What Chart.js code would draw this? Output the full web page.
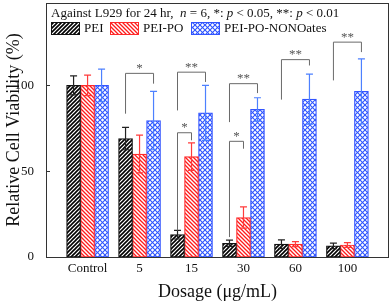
<!DOCTYPE html>
<html>
<head>
<meta charset="utf-8">
<script src="https://cdn.jsdelivr.net/npm/chart.js@4.4.0/dist/chart.umd.min.js"></script>
<style>html,body{margin:0;padding:0;background:#fff}</style>
</head>
<body>
<canvas id="chart" width="392" height="301"></canvas>
<script>
const doses = ['Control', '5', '15', '30', '60', '100'];
const seriesNames = ['PEI', 'PEI-PO', 'PEI-PO-NONOates'];
const peiMean = [100, 69, 13, 8, 7.5, 6.5];
const peiErr = [5.5, 6.5, 2.5, 1.8, 2.5, 1.6];
const peiPoMean = [100, 60, 58.5, 23, 7.5, 7];
const peiPoErr = [6, 11, 8, 6.2, 1.5, 1.4];
const nonoMean = [100, 79.5, 84, 86, 92, 96.5];
const nonoErr = [9.5, 17, 16, 6.8, 14.6, 19];
const yTicks = [0, 50, 100];

// significance brackets: dose index, from series, to series, top, left end, right end, label
const brackets = [
    [1, 0, 2, 107, 83.5, 101, '*'],
    [2, 0, 2, 107.7, 85.4, 102, '**'],
    [2, 0, 1, 72.4, 15.5, 68, '*'],
    [3, 0, 2, 101, 78.6, 95.5, '**'],
    [3, 0, 1, 67.4, 11.6, 63.1, '*'],
    [4, 0, 2, 115, 91.7, 111.6, '**'],
    [5, 0, 2, 125.2, 102.9, 119.4, '**']
];

const lineColors = ['#111111', '#ff2a2a', '#3355ff'];
const errColors = ['#222222', '#ff3b3b', '#4d80ff'];

// hatch patterns
function makePattern(kind, color) {
    const c = document.createElement('canvas');
    const s = kind === 'cross' ? 5 : 4;
    c.width = s; c.height = s;
    const g = c.getContext('2d');
    g.fillStyle = '#fff';
    g.fillRect(0, 0, s, s);
    g.strokeStyle = color;
    g.lineWidth = kind === 'cross' ? 1.1 : (kind === 'up' ? 1.6 : 1.3);
    const up = () => {
        g.beginPath();
        g.moveTo(-1, s + 1); g.lineTo(s + 1, -1);
        g.moveTo(-1, 1); g.lineTo(1, -1);
        g.moveTo(s - 1, s + 1); g.lineTo(s + 1, s - 1);
        g.stroke();
    };
    const down = () => {
        g.beginPath();
        g.moveTo(-1, -1); g.lineTo(s + 1, s + 1);
        g.moveTo(s - 1, -1); g.lineTo(s + 1, 1);
        g.moveTo(-1, s - 1); g.lineTo(1, s + 1);
        g.stroke();
    };
    if (kind === 'up') up();
    else if (kind === 'down') down();
    else { up(); down(); }
    return g.createPattern(c, 'repeat');
}

const patterns = [
    makePattern('up', '#000'),
    makePattern('down', '#ff1a1a'),
    makePattern('cross', '#2f55ff')
];

const means = [peiMean, peiPoMean, nonoMean];
const errs = [peiErr, peiPoErr, nonoErr];

const extras = {
    id: 'extras',
    afterDatasetsDraw(chart) {
        const ctx = chart.ctx;
        const y = chart.scales.y;
        const area = chart.chartArea;
        ctx.save();

        // error bars
        means.forEach((m, s) => {
            const meta = chart.getDatasetMeta(s);
            ctx.strokeStyle = errColors[s];
            ctx.lineWidth = 1.2;
            m.forEach((v, i) => {
                const x = meta.data[i].x;
                const top = y.getPixelForValue(v + errs[s][i]);
                const bot = y.getPixelForValue(v - errs[s][i]);
                ctx.beginPath();
                ctx.moveTo(x, top); ctx.lineTo(x, bot);
                ctx.moveTo(x - 3.5, top); ctx.lineTo(x + 3.5, top);
                ctx.moveTo(x - 3.5, bot); ctx.lineTo(x + 3.5, bot);
                ctx.stroke();
            });
        });

        // brackets
        ctx.strokeStyle = '#6a6a6a';
        ctx.fillStyle = '#555';
        ctx.lineWidth = 1;
        ctx.font = '13px "Liberation Serif"';
        ctx.textAlign = 'center';
        ctx.textBaseline = 'middle';
        brackets.forEach(([i, a, b, top, lEnd, rEnd, label]) => {
            const xa = chart.getDatasetMeta(a).data[i].x;
            const xb = chart.getDatasetMeta(b).data[i].x;
            const yt = y.getPixelForValue(top);
            ctx.beginPath();
            ctx.moveTo(xa, y.getPixelForValue(lEnd));
            ctx.lineTo(xa, yt);
            ctx.lineTo(xb, yt);
            ctx.lineTo(xb, y.getPixelForValue(rEnd));
            ctx.stroke();
            ctx.fillText(label, (xa + xb) / 2, yt - 5);
        });

        // frame and y ticks
        ctx.strokeStyle = '#333';
        ctx.lineWidth = 1;
        ctx.strokeRect(area.left + 0.5, area.top + 0.5, area.right - area.left - 1, area.bottom - area.top);
        yTicks.forEach(t => {
            const py = Math.round(y.getPixelForValue(t)) + 0.5;
            ctx.beginPath();
            ctx.moveTo(area.left, py); ctx.lineTo(area.left + 4, py);
            ctx.stroke();
        });

        // note and legend
        ctx.textAlign = 'left';
        ctx.fillStyle = '#111';
        let px = 51;
        const ny = 14;
        const parts = [
            ['Against L929 for 24 hr,  ', false], ['n', true], [' = 6, *: ', false], ['p', true],
            [' < 0.05, **: ', false], ['p', true], [' < 0.01', false]
        ];
        parts.forEach(([t, it]) => {
            ctx.font = (it ? 'italic ' : '') + '13px "Liberation Serif"';
            ctx.fillText(t, px, ny);
            px += ctx.measureText(t).width;
        });

        ctx.font = '13px "Liberation Serif"';
        const swX = [51, 110, 191];
        seriesNames.forEach((name, s) => {
            ctx.fillStyle = patterns[s];
            ctx.fillRect(swX[s], 22, 29, 13);
            ctx.strokeStyle = lineColors[s];
            ctx.strokeRect(swX[s] + 0.5, 22.5, 28, 12);
            ctx.fillStyle = '#111';
            ctx.fillText(name, swX[s] + 33, 29);
        });
        ctx.restore();
    }
};

Chart.defaults.font.family = '"Liberation Serif", serif';
Chart.defaults.color = '#222';

new Chart(document.getElementById('chart'), {
    type: 'bar',
    data: {
        datasets: seriesNames.map((name, s) => ({
            label: name,
            data: means[s].map((v, i) => ({ x: i, y: v })),
            backgroundColor: patterns[s],
            borderColor: lineColors[s],
            borderWidth: 1.2,
            borderSkipped: false,
            barThickness: 14
        }))
    },
    options: {
        responsive: false,
        animation: false,
        devicePixelRatio: 1,
        layout: { padding: { top: 3, right: 3, left: 0, bottom: 0 } },
        plugins: { legend: { display: false }, tooltip: { enabled: false } },
        scales: {
            x: {
                type: 'linear',
                offset: false,
                min: -0.8,
                max: 5.8,
                grid: { display: false, drawTicks: false },
                border: { display: false },
                afterBuildTicks: sc => { sc.ticks = doses.map((d, i) => ({ value: i })); },
                afterFit: sc => { sc.height = 44; sc.paddingLeft = 0; sc.paddingRight = 0; },
                ticks: {
                    autoSkip: false,
                    maxRotation: 0,
                    padding: 4,
                    font: { size: 13 },
                    color: '#111',
                    callback: v => doses[v]
                },
                title: {
                    display: true,
                    text: 'Dosage (μg/mL)',
                    font: { size: 18, lineHeight: 1 },
                    color: '#111',
                    padding: { top: 0, bottom: 0 }
                }
            },
            y: {
                min: 0,
                max: 148,
                grid: { display: false, drawTicks: false },
                border: { display: false },
                afterBuildTicks: sc => { sc.ticks = yTicks.map(v => ({ value: v })); },
                afterFit: sc => { sc.width = 46; sc.paddingTop = 0; sc.paddingBottom = 0; },
                ticks: { padding: 12, font: { size: 13 }, color: '#111' },
                title: {
                    display: true,
                    text: 'Relative Cell Viability (%)',
                    font: { size: 18, lineHeight: 1.2 },
                    color: '#111',
                    padding: { top: 3, bottom: 0 }
                }
            }
        }
    },
    plugins: [extras]
});
</script>
</body>
</html>
